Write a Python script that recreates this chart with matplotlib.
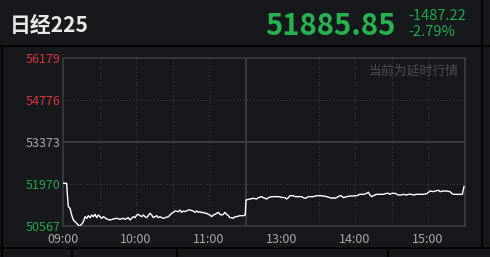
import matplotlib
matplotlib.use("Agg")
import matplotlib.pyplot as plt
from matplotlib.lines import Line2D

plt.rcParams['font.family'] = ['Noto Sans CJK SC', 'DejaVu Sans']

# trading minutes since 09:00 (lunch break removed), index level
minutes = [0, 3, 3.6, 4.4, 5.8, 7.1, 8.5, 11.2, 13.4, 15.3, 16.7, 18.1, 19.5, 20.8, 22.2, 23.6, 24.9, 26.3, 27.7, 29.0,
           30.4, 31.8, 33.1, 34.5, 35.9, 38.6, 41.3, 44.1, 46.8, 49.6,
           51.0, 53.7, 55.1, 56.4, 57.8, 59.2, 60.6, 61.9, 63.3, 64.7, 66.0, 67.4, 68.8, 70.1, 71.5, 72.9, 74.2, 75.6,
           77.0, 78.3, 79.7, 81.1, 82.5, 83.8, 86.6, 87.9, 89.3, 90.7, 92.0, 94.8, 96.1, 97.5, 98.9, 100.2, 103.0,
           104.4, 107.1, 108.5, 109.9, 111.2, 112.6, 114.0, 115.3, 116.7, 118.1, 119.4, 120.8, 122.2, 123.6, 124.9,
           126.3, 127.7, 129.0, 130.4, 131.8, 133.1, 134.5, 135.9, 137.2, 138.6, 140.0, 141.4, 142.7, 145.5, 148.2,
           149.8, 150.4, 153.7, 156.4,
           159.2, 160.5, 163.3, 164.7, 166.0, 167.4, 168.8, 171.5, 174.2, 177.0, 179.7, 182.5, 183.8, 185.2, 186.6,
           189.3, 190.7, 196.2, 197.5, 198.9, 200.3, 201.6, 205.7, 208.5,
           211.2, 214.0, 216.7, 219.5, 220.8, 222.2, 223.6, 226.3, 227.7, 229.0, 230.4, 233.2, 235.9, 238.6, 241.4,
           244.1, 246.9, 249.6, 251.0, 252.3, 253.7, 255.1, 257.8, 260.5, 263.3, 266.0, 267.4,
           268.8, 270.1, 272.9, 275.6, 278.3, 279.7, 282.4, 283.8, 286.5, 287.9, 290.7, 293.4, 296.1, 299.0, 300.3,
           301.7, 304.4, 305.8, 308.5, 309.9, 312.6, 315.3, 318.1, 319.5, 320.8, 323.6, 326.3, 328.2, 329.0, 329.6]
prices = [51996, 51996, 51605, 51213, 51159, 50935, 50768, 50657, 50567, 50624, 50711, 50878, 50825, 50912, 50845,
          50935, 50878, 50958, 50845, 50935, 50878, 50825, 50878, 50845, 50801, 50768, 50801, 50825, 50791, 50825,
          50790, 50846, 50768, 50824, 50879, 50846, 50935, 50957, 50913, 50879, 50935, 50879, 50846, 50913, 50991,
          50935, 50846, 50879, 50913, 50846, 50879, 50846, 50824, 50846, 50879, 50935, 50991, 51024, 51069, 51047,
          51102, 51024, 51069, 51047, 51102,
          51102, 51069, 51024, 51069, 51024, 51047, 51013, 51024, 50991, 50991, 50957, 50935, 50879, 50935, 50957,
          50991, 51024, 50957, 50935, 50957, 51024, 50957, 50913, 50846, 50846, 50824, 50879, 50879, 50913, 50913,
          50935, 51437, 51471, 51493,
          51471, 51515, 51549, 51515, 51493, 51471, 51515, 51549, 51549, 51549, 51526, 51515, 51471, 51515, 51582,
          51582, 51549, 51549, 51515, 51493, 51515, 51549, 51549, 51582,
          51582, 51571, 51549, 51515, 51493, 51515, 51493, 51549, 51582, 51571, 51515, 51549, 51571, 51571, 51582,
          51627, 51627, 51660, 51694, 51605, 51549, 51582, 51627, 51627, 51627, 51660, 51660,
          51627, 51660, 51660, 51605, 51605, 51627, 51605, 51627, 51627, 51605, 51627, 51627, 51627, 51649, 51694,
          51738, 51716, 51738, 51761, 51716, 51738, 51738, 51716, 51660, 51627, 51627, 51627, 51627, 51772, 51886]

prev_close = 53373
y_ticks = [50567, 51970, 53373, 54776, 56179]
x_tick_pos = [0, 60, 120, 180, 240, 300]
x_tick_labels = ['09:00', '10:00', '11:00', '13:00', '14:00', '15:00']

name = '日经225'
last = '51885.85'
change = '-1487.22'
change_pct = '-2.79%'

W, H = 490, 257
BG = '#16181c'
GRID = '#3a3c41'
RED = '#d8343c'
GREEN = '#1fa84a'

fig = plt.figure(figsize=(W / 100, H / 100), dpi=100, facecolor=BG)
ax = fig.add_axes([63 / W, 1 - 226 / H, (464.5 - 63) / W, (226 - 58.3) / H])
ax.set_facecolor(BG)

def px(x, y):
    return x / W, 1 - y / H

# grid
for t in [30, 60, 90, 120, 210, 240, 270, 300]:
    ax.axvline(t, color=GRID, lw=0.8, ls=(0, (1, 2)), zorder=1)
ax.axvline(150, color=GRID, lw=1.4, zorder=1)
for v in [51970, 54776]:
    ax.axhline(v, color=GRID, lw=0.8, ls=(0, (1, 2)), zorder=1)
ax.axhline(prev_close, color=GRID, lw=1.4, zorder=1)

ax.plot(minutes, prices, color='white', lw=1.0, zorder=3)

ax.set_xlim(0, 330)
ax.set_ylim(y_ticks[0], y_ticks[-1])
for s in ax.spines.values():
    s.set_color(GRID)
    s.set_linewidth(1.2)

ax.set_yticks(y_ticks)
ax.set_yticklabels([str(v) for v in y_ticks], fontsize=9)
for lab, v in zip(ax.get_yticklabels(), y_ticks):
    lab.set_color(RED if v > prev_close else GREEN if v < prev_close else '#a8a8a8')
ax.set_xticks(x_tick_pos)
ax.set_xticklabels(x_tick_labels, fontsize=9, color='#a8a8a8')
ax.tick_params(axis='y', length=0, pad=2)
ax.tick_params(axis='x', length=0, pad=5)

ax.text(0.985, 0.965, '当前为延时行情', transform=ax.transAxes, ha='right', va='top',
        fontsize=9.3, color='#4a4c50')

# header
fig.text(*px(10, 25), name, color='#e8e8e8', fontsize=15, fontweight='bold', va='center', ha='left')
fig.text(*px(396, 26), last, color='#25b350', fontsize=21, fontweight='bold', va='center', ha='right')
fig.text(*px(408, 16), change, color=GREEN, fontsize=10.5, va='center', ha='left')
fig.text(*px(408, 32), change_pct, color=GREEN, fontsize=10.5, va='center', ha='left')

# panel frame lines
dark = '#050506'
for (x0, y0, x1, y1) in [(0, 46, 490, 46), (482, 0, 482, 248), (1.5, 46, 1.5, 257),
                         (0, 248, 490, 248), (72, 248, 72, 257), (177, 248, 177, 257), (388, 248, 388, 257)]:
    (a, b), (c, d) = px(x0, y0), px(x1, y1)
    fig.add_artist(Line2D([a, c], [b, d], color=dark, lw=1.5))

fig.savefig('out.png', dpi=100, facecolor=BG)
